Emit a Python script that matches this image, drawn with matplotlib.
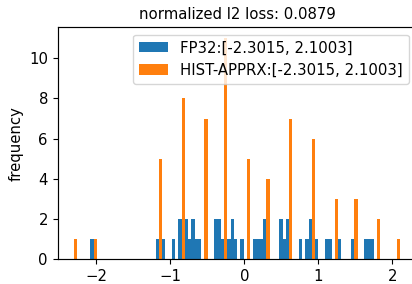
import numpy as np
import matplotlib
matplotlib.use("Agg")
import matplotlib.pyplot as plt

# value range of both tensors, 100 histogram bins
x_min, x_max = -2.3015, 2.1003
n_bins = 100

# FP32 histogram: bin index -> count (only the bars that can be seen)
fp32_bins = [0, 5, 25, 27, 30, 32, 34, 35, 36, 37, 38, 43, 44, 45, 47, 48, 49,
             51, 55, 56, 57, 58, 63, 64, 65, 69, 71, 72, 74, 77, 78, 81, 85,
             89, 90, 91, 99]
fp32_counts = [1, 1, 1, 1, 1, 2, 2, 1, 2, 1, 1, 2, 2, 1, 1, 2, 1,
               1, 1, 1, 1, 2, 2, 1, 2, 1, 1, 2, 1, 1, 1, 1, 1,
               1, 1, 1, 1]

# histogram approximation: 16 levels, bin index -> count
apprx_bins = [0, 6, 26, 33, 40, 46, 53, 59, 66, 73, 80, 86, 93, 99]
apprx_counts = [1, 1, 5, 8, 7, 11, 5, 4, 7, 6, 3, 3, 2, 1]

loss = 0.0879

# the original was rendered a bit larger than 100 dpi
plt.rcParams['font.size'] = 10.7
plt.rcParams['axes.linewidth'] = 0.85
plt.rcParams['xtick.major.size'] = 3.7
plt.rcParams['ytick.major.size'] = 3.7

edges = np.linspace(x_min, x_max, n_bins + 1)
centers = (edges[:-1] + edges[1:]) / 2

fig = plt.figure(figsize=(4.12, 2.84), dpi=100)
ax = fig.add_axes([0.1405, 0.087, 0.8697, 0.8176])

ax.hist(centers[fp32_bins], bins=edges, weights=fp32_counts,
        label='FP32:[%.4f, %.4f]' % (x_min, x_max))
ax.hist(centers[apprx_bins], bins=edges, weights=apprx_counts,
        label='HIST-APPRX:[%.4f, %.4f]' % (x_min, x_max))

ax.set_ylabel('frequency')
ax.set_title('normalized l2 loss: %.4f' % loss, fontsize=10.7)
ax.set_yticks([0, 2, 4, 6, 8, 10])
ax.legend(loc='upper right')

fig.savefig('out.png', dpi=100)
